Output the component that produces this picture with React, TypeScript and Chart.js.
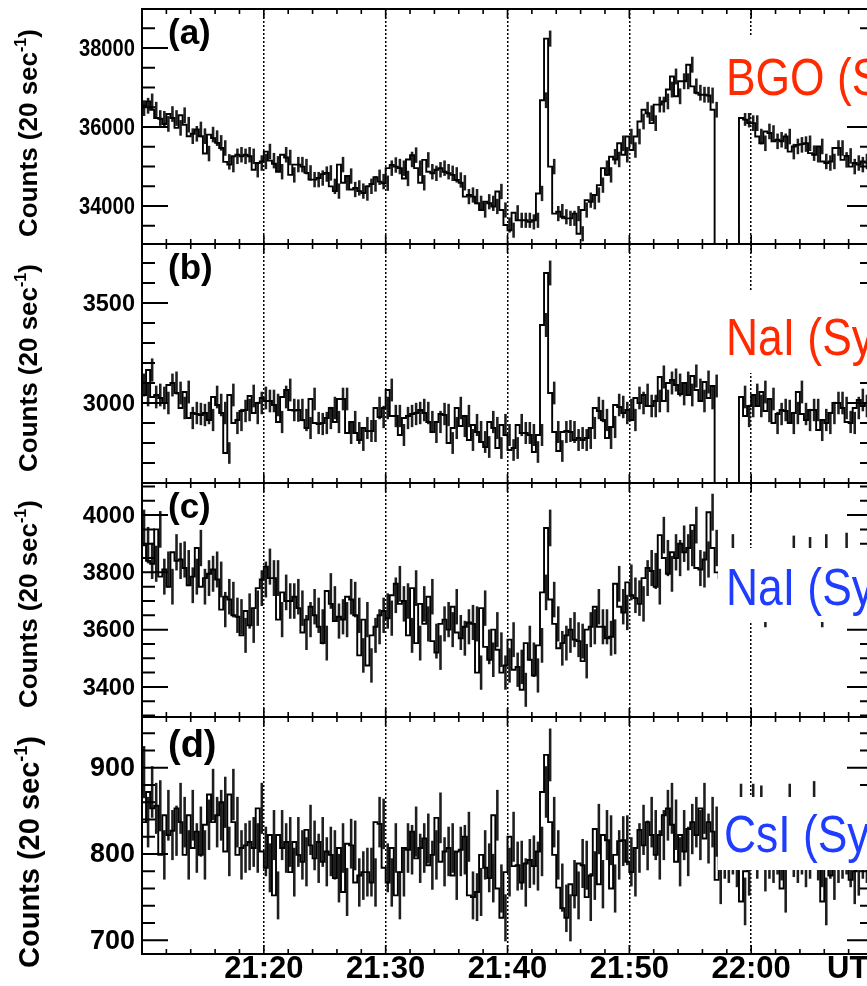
import React, { useEffect, useRef } from "react";
import { Chart, registerables } from "chart.js";

Chart.register(...registerables);

// ---------------- data (20 s bins from 21:10:00 UT) ----------------
const binSeconds = 20;
const timeTickValues = [600, 1200, 1800, 2400, 3000]; // seconds after 21:10 UT
const timeTickLabels = ["21:20", "21:30", "21:40", "21:50", "22:00"];
const timeAxisUnit = "UT";

const bgoCounts = [
  36480, 36540, 36650, 36440, 36230, 36210, 36080, 36330, 36230, 35980,
  36300, 36060, 35770, 35830, 35940, 35770, 35330, 35810, 35720, 35600,
  35470, 35120, 35050, 35260, 35300, 35260, 35300, 35260, 34920, 35090,
  35130, 35380, 35150, 35070, 34870, 35300, 35230, 34790, 35050, 35050,
  35000, 34840, 34670, 34670, 34710, 34810, 34840, 34500, 34380, 35050,
  34590, 34760, 34420, 34460, 34380, 34330, 34500, 34560, 34730, 34620,
  34580, 34960, 35040, 35000, 34960, 34700, 35180, 35290, 34960, 34590,
  35170, 34870, 34830, 34920, 34960, 34870, 34830, 34790, 34660, 34590,
  34240, 34280, 34240, 34070, 33900, 34110, 34070, 33990, 34370, 33900,
  33520, 33390, 33830, 33640, 33640, 33640, 33600, 33640, 34320, 36680,
  38240, 35000, 33810, 33860, 33730, 33690, 33690, 33810, 33300, 33900,
  34150, 34110, 34280, 34530, 34960, 34790, 35250, 35180, 35590, 35300,
  35760, 35420, 35760, 36140, 36440, 36350, 36100, 36570, 36570, 36650,
  36950, 37280, 36780, 37160, 37160, 37580, 37030, 36870, 36820, 36820,
  36800, 36440, 0, 0, 0, 0, 0, 0, 36230, 36190,
  36100, 36100, 35760, 35590, 35890, 35850, 35640, 35680, 35640, 35760,
  35380, 35510, 35550, 35570, 35590, 35340, 35300, 35510, 35130, 35090,
  35130, 35470, 35470, 35170, 35270, 35000, 35090, 35050, 35130, 35100,
];

const naiRedCounts = [
  3090, 3040, 3165, 3030, 3040, 3025, 3000, 3090, 3100, 3050,
  2975, 3055, 2925, 2950, 2945, 2940, 2950, 2915, 3030, 2990,
  2950, 2750, 3040, 2900, 2915, 2960, 2965, 3035, 2950, 3000,
  3025, 3010, 3010, 2990, 2905, 3030, 3065, 2965, 2962, 2965,
  2915, 2875, 3020, 2900, 2895, 2900, 2925, 2975, 2905, 3020,
  3020, 2850, 2905, 2850, 2815, 2875, 2860, 2860, 2975, 2930,
  2975, 3065, 2935, 2935, 2840, 2925, 2935, 2945, 2950, 2965,
  2950, 2905, 2855, 2905, 2945, 2940, 2800, 2875, 2975, 2885,
  2935, 2815, 2890, 2855, 2805, 2780, 2905, 2875, 2775, 2890,
  2840, 2765, 2775, 2890, 2850, 2850, 2840, 2755, 2840, 3390,
  3650, 3050, 2855, 2760, 2855, 2860, 2855, 2815, 2825, 2815,
  2825, 2875, 2975, 2960, 2915, 2825, 2880, 2990, 2980, 2950,
  2965, 2915, 3025, 3000, 3040, 2985, 2985, 3010, 3130, 3010,
  3100, 3115, 3090, 3045, 3100, 3040, 3135, 3065, 3010, 3105,
  3025, 3085, 0, 0, 0, 0, 0, 0, 3030, 2935,
  2985, 3040, 2985, 3055, 2960, 3020, 2900, 2945, 2965, 2960,
  2900, 2950, 3055, 2945, 2915, 2965, 2965, 2865, 2915, 2900,
  2950, 3000, 3000, 2975, 2905, 2900, 2975, 3015, 2985, 3000,
];

const naiBlueCounts = [
  3955, 3895, 3840, 3830, 3950, 3785, 3810, 3750, 3870, 3840,
  3845, 3815, 3755, 3785, 3885, 3750, 3780, 3795, 3810, 3775,
  3670, 3715, 3705, 3650, 3645, 3580, 3665, 3615, 3675, 3745,
  3775, 3820, 3780, 3780, 3635, 3730, 3700, 3700, 3715, 3675,
  3590, 3635, 3680, 3650, 3610, 3553, 3735, 3690, 3630, 3645,
  3635, 3715, 3705, 3650, 3510, 3635, 3475, 3580, 3610, 3650,
  3665, 3640, 3720, 3760, 3690, 3700, 3580, 3745, 3553, 3690,
  3620, 3715, 3560, 3520, 3620, 3635, 3600, 3680, 3590, 3570,
  3610, 3625, 3620, 3450, 3675, 3540, 3495, 3600, 3530, 3450,
  3475, 3565, 3460, 3470, 3390, 3553, 3495, 3440, 3545, 3730,
  3955, 3705, 3620, 3535, 3553, 3580, 3600, 3565, 3560, 3490,
  3600, 3610, 3680, 3610, 3610, 3570, 3575, 3760, 3680, 3660,
  3765, 3720, 3710, 3690, 3780, 3815, 3805, 3750, 3930, 3850,
  3795, 3870, 3850, 3900, 3870, 3885, 3965, 3815, 3810, 3845,
  4010, 3885, 3800, 3780, 3820, 3870, 3790, 3760, 3800, 3770,
  3740, 3780, 3720, 3670, 3750, 3790, 3760, 3800, 3780, 3810,
  3865, 3790, 3760, 3800, 3860, 3780, 3740, 3670, 3870, 3800,
  3760, 3790, 3810, 3875, 3800, 3780, 3820, 3790, 3760, 3800,
];

const csiCounts = [
  895, 837, 872, 853, 856, 799, 845, 822, 827, 853,
  837, 799, 845, 807, 826, 799, 834, 869, 837, 845,
  860, 803, 869, 837, 799, 807, 810, 814, 807, 853,
  803, 784, 822, 752, 822, 807, 814, 779, 814, 799,
  791, 828, 810, 795, 814, 791, 803, 799, 772, 807,
  756, 812, 810, 767, 775, 779, 779, 767, 837, 835,
  784, 767, 807, 752, 779, 807, 805, 826, 795, 807,
  818, 787, 799, 842, 791, 803, 807, 775, 803, 805,
  820, 752, 750, 756, 799, 784, 772, 845, 760, 726,
  779, 820, 786, 787, 767, 789, 793, 786, 803, 872,
  915, 837, 799, 761, 737, 726, 765, 752, 789, 787,
  750, 775, 829, 765, 822, 816, 760, 799, 815, 816,
  791, 779, 807, 828, 810, 837, 822, 799, 822, 845,
  853, 834, 791, 822, 803, 829, 837, 822, 853, 818,
  837, 826, 770, 800, 795, 805, 790, 852, 745, 780,
  852, 800, 850, 785, 800, 795, 805, 798, 760, 852,
  802, 795, 805, 790, 800, 855, 798, 790, 745, 800,
  775, 795, 800, 805, 790, 770, 780, 800, 795, 790,
];

const panelLetters = ["(a)", "(b)", "(c)", "(d)"];
const detectorNames = ["BGO (S", "NaI (Sy", "NaI (Sy", "CsI (Sy"];
const yTitleMain = "Counts (20 sec";
const yTitleSup = "-1";
const yTitleEnd = ")";

const yMajorTicksA = [34000, 36000, 38000];
const yMajorTicksB = [3000, 3500];
const yMajorTicksC = [3400, 3600, 3800, 4000];
const yMajorTicksD = [700, 800, 900];
const yMinorStep = [500, 100, 50, 20];
const yMin = [33040, 2600, 3295, 684];
const yMax = [38990, 3795, 4112, 959];

// ---------------- layout / style ----------------
const FONT = "'Liberation Sans', Arial, Helvetica, sans-serif";
const RED = "#ff2a00";
const BLUE = "#1f3dff";
const CANVAS_W = 900;
const FRAME_LEFT = 142;
const FRAME_RIGHT = 873;
const BOX_LEFT = 718;
const LEGEND_SX = 0.87;
const TICK_LABEL_RIGHT = 135;

type Layout = {
  counts: number[];
  majors: number[];
  canvasTop: number;
  canvasHeight: number;
  areaTop: number;
  areaBottom: number;
  axisH: number;
  tickFont: number;
  tickSx: number;
  titleFont: number;
  titleX: number;
  titleY: number;
  letterFont: number;
  letterY: number;
  legendColor: string;
  legendX: number;
  legendY: number;
  boxTop: number;
  boxBottom: number;
};

const PANELS: Layout[] = [
  { counts: bgoCounts, majors: yMajorTicksA, canvasTop: 0, canvasHeight: 250, areaTop: 9, areaBottom: 244, axisH: 0,
    tickFont: 24, tickSx: 0.84, titleFont: 26, titleX: 36.5, titleY: 133, letterFont: 35, letterY: 44,
    legendColor: RED, legendX: 726, legendY: 95, boxTop: 35, boxBottom: 113 },
  { counts: naiRedCounts, majors: yMajorTicksB, canvasTop: 239, canvasHeight: 250, areaTop: 244, areaBottom: 483, axisH: 0,
    tickFont: 24, tickSx: 0.98, titleFont: 26, titleX: 36.5, titleY: 368, letterFont: 35, letterY: 279,
    legendColor: RED, legendX: 726, legendY: 355, boxTop: 292, boxBottom: 373 },
  { counts: naiBlueCounts, majors: yMajorTicksC, canvasTop: 478, canvasHeight: 245, areaTop: 483, areaBottom: 717, axisH: 0,
    tickFont: 24, tickSx: 0.98, titleFont: 26, titleX: 36.5, titleY: 604, letterFont: 35, letterY: 518,
    legendColor: BLUE, legendX: 726, legendY: 605, boxTop: 548, boxBottom: 622 },
  { counts: csiCounts, majors: yMajorTicksD, canvasTop: 712, canvasHeight: 274, areaTop: 717, areaBottom: 954, axisH: 32,
    tickFont: 27, tickSx: 1, titleFont: 29, titleX: 39, titleY: 852, letterFont: 38, letterY: 757,
    legendColor: BLUE, legendX: 724, legendY: 852, boxTop: 797, boxBottom: 870 },
];

function makeDecor(idx: number) {
  const L = PANELS[idx];
  return {
    id: "panelDecor" + idx,
    afterDatasetsDraw(chart: any) {
      const { ctx, chartArea: a } = chart;
      const xs = chart.scales.x;
      const ys = chart.scales.y;
      const off = L.canvasTop;
      ctx.save();
      // inward tick marks on all four sides
      ctx.strokeStyle = "#000";
      ctx.lineWidth = 2;
      ctx.beginPath();
      const step = yMinorStep[idx];
      for (let v = Math.ceil(yMin[idx] / step) * step; v <= yMax[idx]; v += step) {
        const py = ys.getPixelForValue(v);
        const len = L.majors.includes(v) ? 26 : 13;
        ctx.moveTo(a.left, py);
        ctx.lineTo(a.left + len, py);
        ctx.moveTo(a.right, py);
        ctx.lineTo(a.right - len, py);
      }
      ctx.stroke();
      ctx.lineWidth = 1.6;
      ctx.beginPath();
      for (let t = 120; t < L.counts.length * binSeconds; t += 120) {
        const px = xs.getPixelForValue(t);
        const len = t % 600 === 0 ? 9 : 5;
        ctx.moveTo(px, a.top);
        ctx.lineTo(px, a.top + len);
        ctx.moveTo(px, a.bottom);
        ctx.lineTo(px, a.bottom - len);
      }
      ctx.stroke();

      // y tick labels (placed through the y scale)
      ctx.fillStyle = "#000";
      ctx.font = `bold ${L.tickFont}px ${FONT}`;
      ctx.textAlign = "right";
      ctx.textBaseline = "middle";
      for (const v of L.majors) {
        const py = ys.getPixelForValue(v);
        ctx.save();
        ctx.translate(TICK_LABEL_RIGHT, py + 1);
        ctx.scale(L.tickSx, 1);
        ctx.fillText(String(v), 0, 0);
        ctx.restore();
      }

      // legend pave (white, hides what is under it)
      ctx.fillStyle = "#fff";
      ctx.fillRect(BOX_LEFT, L.boxTop - off, a.right - BOX_LEFT, L.boxBottom - L.boxTop);
      ctx.save();
      ctx.translate(L.legendX, L.legendY - off);
      ctx.scale(LEGEND_SX, 1);
      ctx.fillStyle = L.legendColor;
      ctx.font = `51px ${FONT}`;
      ctx.textAlign = "left";
      ctx.textBaseline = "alphabetic";
      ctx.fillText(detectorNames[idx], 0, 0);
      ctx.restore();

      // frame
      ctx.strokeStyle = "#000";
      ctx.lineWidth = 2;
      ctx.strokeRect(a.left, a.top, a.right - a.left, a.bottom - a.top);

      // panel letter
      ctx.fillStyle = "#000";
      ctx.textAlign = "left";
      ctx.textBaseline = "alphabetic";
      ctx.font = `bold ${L.letterFont}px ${FONT}`;
      ctx.fillText(panelLetters[idx], 168, L.letterY - off);

      // y axis title with superscript
      const F = L.titleFont;
      const mainFont = `bold ${F}px ${FONT}`;
      const supFont = `bold ${Math.round(F * 0.62)}px ${FONT}`;
      ctx.font = mainFont;
      const w1 = ctx.measureText(yTitleMain).width;
      const w3 = ctx.measureText(yTitleEnd).width;
      ctx.font = supFont;
      const w2 = ctx.measureText(yTitleSup).width;
      ctx.translate(L.titleX, L.titleY - off);
      ctx.rotate(-Math.PI / 2);
      let u = -(w1 + w2 + w3) / 2;
      ctx.font = mainFont;
      ctx.fillText(yTitleMain, u, 0);
      u += w1;
      ctx.font = supFont;
      ctx.fillText(yTitleSup, u, -F * 0.4);
      u += w2;
      ctx.font = mainFont;
      ctx.fillText(yTitleEnd, u, 0);
      ctx.restore();

      if (L.axisH > 0) {
        ctx.save();
        ctx.fillStyle = "#000";
        ctx.font = `bold 31px ${FONT}`;
        ctx.textBaseline = "middle";
        ctx.textAlign = "left";
        ctx.fillText(timeAxisUnit, 827, 969 - off);
        ctx.restore();
      }
    },
  };
}

function Panel({ idx }: { idx: number }) {
  const ref = useRef<HTMLCanvasElement | null>(null);
  const L = PANELS[idx];
  useEffect(() => {
    const counts = L.counts;
    const xMax = counts.length * binSeconds;
    const stepData = counts.map((v, i) => ({ x: i * binSeconds, y: v }));
    stepData.push({ x: xMax, y: counts[counts.length - 1] });
    const errData = counts.flatMap((v, i) =>
      v > 0 ? [{ x: (i + 0.5) * binSeconds, y: [v - Math.sqrt(v), v + Math.sqrt(v)] }] : []
    );
    const showTime = L.axisH > 0;
    const chart = new Chart(ref.current as HTMLCanvasElement, {
      type: "line",
      data: {
        datasets: [
          {
            type: "line",
            data: stepData as any,
            stepped: "after",
            borderColor: "#000",
            borderWidth: 1.9,
            pointRadius: 0,
            fill: false,
            clip: 0,
            order: 1,
          } as any,
          {
            type: "bar",
            data: errData as any,
            backgroundColor: "#1e1e1e",
            borderWidth: 0,
            barThickness: 1.9,
            clip: 0,
            order: 2,
          } as any,
        ],
      },
      options: {
        responsive: false,
        animation: false,
        devicePixelRatio: 1,
        events: [],
        layout: {
          padding: {
            left: 0,
            right: CANVAS_W - FRAME_RIGHT,
            top: L.areaTop - L.canvasTop,
            bottom: L.canvasTop + L.canvasHeight - L.areaBottom - L.axisH,
          },
        },
        plugins: { legend: { display: false }, tooltip: { enabled: false }, title: { display: false } },
        scales: {
          x: {
            type: "linear",
            min: 0,
            max: xMax,
            offset: false,
            position: "bottom",
            afterBuildTicks: (s: any) => {
              s.ticks = timeTickValues.map((v) => ({ value: v }));
            },
            afterFit: (s: any) => {
              s.height = L.axisH;
              s.paddingLeft = 0;
              s.paddingRight = 0;
              s.paddingTop = 0;
              s.paddingBottom = 0;
            },
            ticks: {
              display: showTime,
              autoSkip: false,
              maxRotation: 0,
              padding: 0,
              color: "#000",
              font: { family: FONT, weight: "bold", size: 31, lineHeight: 1 },
              callback: (v: any) => {
                const k = timeTickValues.indexOf(Number(v));
                return k >= 0 ? timeTickLabels[k] : "";
              },
            },
            grid: {
              display: true,
              drawOnChartArea: true,
              drawTicks: false,
              offset: false,
              color: "#000",
              lineWidth: 1.5,
            },
            border: { display: false, dash: [2, 2] },
          },
          y: {
            type: "linear",
            min: yMin[idx],
            max: yMax[idx],
            beginAtZero: false,
            position: "left",
            afterBuildTicks: (s: any) => {
              s.ticks = L.majors.map((v) => ({ value: v }));
            },
            afterFit: (s: any) => {
              s.width = FRAME_LEFT;
              s.paddingTop = 0;
              s.paddingBottom = 0;
              s.paddingLeft = 0;
              s.paddingRight = 0;
            },
            ticks: { display: false },
            grid: { display: false, drawTicks: false },
            border: { display: false },
          },
        },
      },
      plugins: [makeDecor(idx)],
    } as any);
    return () => chart.destroy();
  }, []);
  return (
    <canvas
      ref={ref}
      width={CANVAS_W}
      height={L.canvasHeight}
      style={{ position: "absolute", left: 0, top: L.canvasTop, width: CANVAS_W, height: L.canvasHeight }}
    />
  );
}

export default function App() {
  return (
    <div
      style={{
        position: "fixed",
        left: 0,
        top: 0,
        width: 867,
        height: 986,
        overflow: "hidden",
        background: "#fff",
      }}
    >
      {PANELS.map((_, i) => (
        <Panel key={i} idx={i} />
      ))}
    </div>
  );
}
